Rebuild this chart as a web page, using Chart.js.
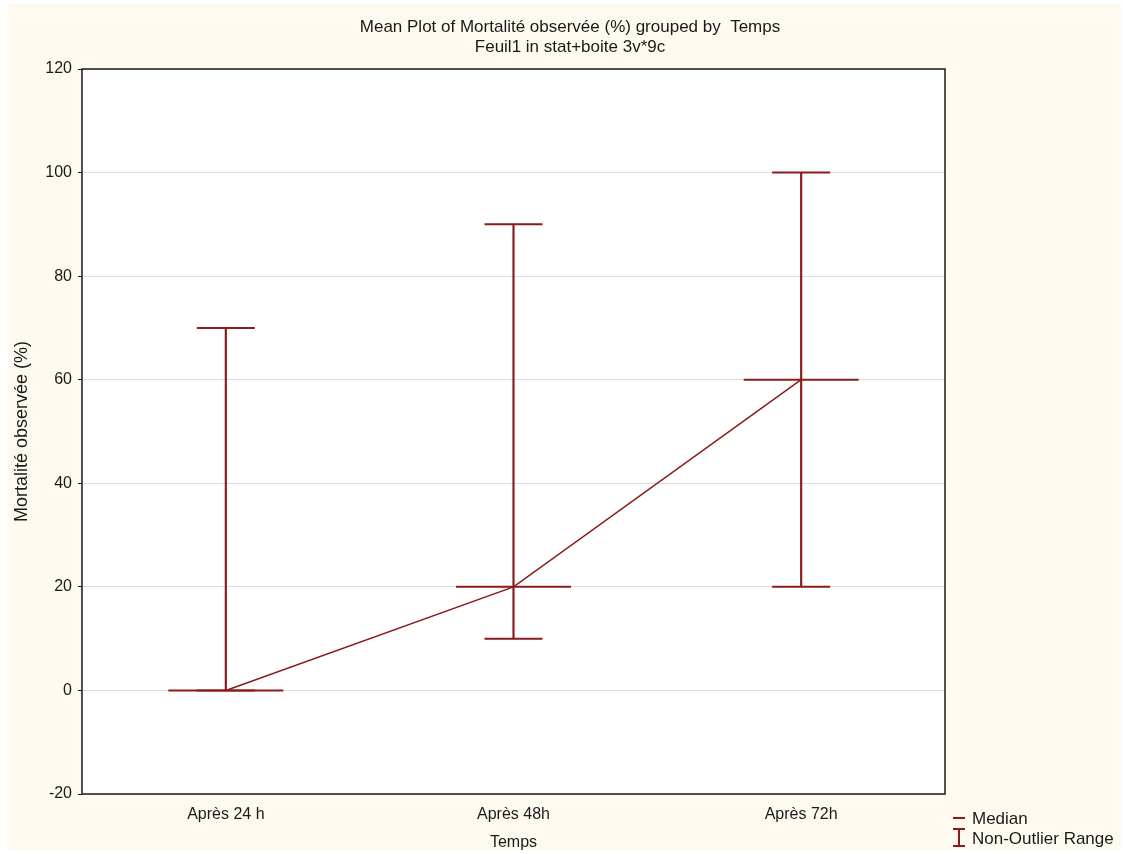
<!DOCTYPE html>
<html lang="fr">
<head>
<meta charset="utf-8">
<title>Mortalité observée par temps</title>
<script src="https://cdn.jsdelivr.net/npm/chart.js@4.4.0/dist/chart.umd.min.js"></script>
<style>
    html, body {
        margin: 0;
        padding: 0;
        background: #ffffff;
    }
    #plotWrap {
        position: absolute;
        left: 8px;
        top: 4px;
        width: 1113px;
        height: 846px;
        background: #fffaf0;
    }
    #meanPlot {
        display: block;
    }
</style>
</head>
<body>
<div id="plotWrap">
    <canvas id="meanPlot" width="1113" height="846"></canvas>
</div>
<script>
// Mortality by exposure time
const categories = ['Après 24 h', 'Après 48h', 'Après 72h'];
const medians = [0, 20, 60];
const rangeLow = [0, 10, 20];
const rangeHigh = [70, 90, 100];

const titleLines = [
    'Mean Plot of Mortalité observée (%) grouped by  Temps',
    'Feuil1 in stat+boite 3v*9c'
];
const legendLabels = ['Median', 'Non-Outlier Range'];

const yMin = -20;
const yMax = 120;
const yStep = 20;

const RED = '#8b1a1a';
const FONT = '"Liberation Sans", Arial, sans-serif';

document.addEventListener('DOMContentLoaded', () => {
    initializeChart();
});

// white plot area, frame, title and legend
const decorPlugin = {
    id: 'decor',
    beforeDraw(chart) {
        const { ctx, chartArea: a } = chart;
        ctx.save();
        ctx.fillStyle = '#ffffff';
        ctx.fillRect(a.left, a.top, a.right - a.left, a.bottom - a.top);
        ctx.restore();
    },
    afterDraw(chart) {
        const { ctx, chartArea: a } = chart;
        ctx.save();

        // frame
        ctx.strokeStyle = '#1a1a1a';
        ctx.lineWidth = 1.5;
        ctx.strokeRect(a.left, a.top, a.right - a.left, a.bottom - a.top);

        // title
        ctx.fillStyle = '#1a1a1a';
        ctx.font = '17px ' + FONT;
        ctx.textAlign = 'center';
        ctx.textBaseline = 'alphabetic';
        ctx.fillText(titleLines[0], 562, 28);
        ctx.fillText(titleLines[1], 562, 48);

        // legend
        const lx = 945;
        ctx.strokeStyle = RED;
        ctx.lineWidth = 2;
        ctx.beginPath();
        ctx.moveTo(lx, 814);
        ctx.lineTo(lx + 12, 814);
        ctx.moveTo(lx, 825);
        ctx.lineTo(lx + 12, 825);
        ctx.moveTo(lx + 6, 825);
        ctx.lineTo(lx + 6, 842);
        ctx.moveTo(lx, 842);
        ctx.lineTo(lx + 12, 842);
        ctx.stroke();

        ctx.textAlign = 'left';
        ctx.fillText(legendLabels[0], 964, 820);
        ctx.fillText(legendLabels[1], 964, 840);
        ctx.restore();
    }
};

function initializeChart() {
    const ctx = document.getElementById('meanPlot').getContext('2d');
    window.meanPlot = new Chart(ctx, {
        type: 'bar',
        data: {
            labels: categories,
            datasets: [
                {
                    // connecting line through medians
                    type: 'line',
                    data: medians,
                    borderColor: RED,
                    borderWidth: 1.5,
                    pointRadius: 0,
                    fill: false,
                    tension: 0
                },
                {
                    // median ticks
                    type: 'line',
                    data: medians,
                    showLine: false,
                    pointStyle: 'line',
                    pointRadius: 57.5,
                    borderColor: RED,
                    borderWidth: 2
                },
                {
                    // upper caps
                    type: 'line',
                    data: rangeHigh,
                    showLine: false,
                    pointStyle: 'line',
                    pointRadius: 29,
                    borderColor: RED,
                    borderWidth: 2
                },
                {
                    // lower caps
                    type: 'line',
                    data: rangeLow,
                    showLine: false,
                    pointStyle: 'line',
                    pointRadius: 29,
                    borderColor: RED,
                    borderWidth: 2
                },
                {
                    // non-outlier range whiskers
                    type: 'bar',
                    data: rangeLow.map((lo, i) => [lo, rangeHigh[i]]),
                    backgroundColor: RED,
                    borderWidth: 0,
                    barThickness: 1.5
                }
            ]
        },
        options: {
            responsive: false,
            animation: false,
            events: [],
            layout: {
                // the wide point markers would otherwise push the plot in
                autoPadding: false,
                padding: { top: 65, right: 176, bottom: 0, left: 0 }
            },
            plugins: {
                legend: { display: false },
                title: { display: false },
                tooltip: { enabled: false }
            },
            scales: {
                x: {
                    offset: true,
                    grid: { display: false, drawTicks: false },
                    border: { display: false },
                    ticks: {
                        color: '#1a1a1a',
                        padding: 11,
                        font: { family: FONT, size: 16 }
                    },
                    title: {
                        display: true,
                        text: 'Temps',
                        color: '#1a1a1a',
                        padding: { top: 0, bottom: -1 },
                        font: { family: FONT, size: 16, lineHeight: 1 }
                    },
                    afterFit(scale) {
                        scale.height = 56;
                    }
                },
                y: {
                    min: yMin,
                    max: yMax,
                    grid: {
                        color: '#dcdcdc',
                        lineWidth: 1,
                        tickColor: '#1a1a1a',
                        tickLength: 4
                    },
                    border: { display: false },
                    ticks: {
                        stepSize: yStep,
                        color: '#1a1a1a',
                        padding: 6,
                        font: { family: FONT, size: 16 }
                    },
                    title: {
                        display: true,
                        text: 'Mortalité observée (%)',
                        color: '#1a1a1a',
                        padding: { top: 5, bottom: 0 },
                        font: { family: FONT, size: 18, lineHeight: 1 }
                    },
                    afterFit(scale) {
                        scale.width = 74;
                    }
                }
            }
        },
        plugins: [decorPlugin]
    });
}
</script>
</body>
</html>
